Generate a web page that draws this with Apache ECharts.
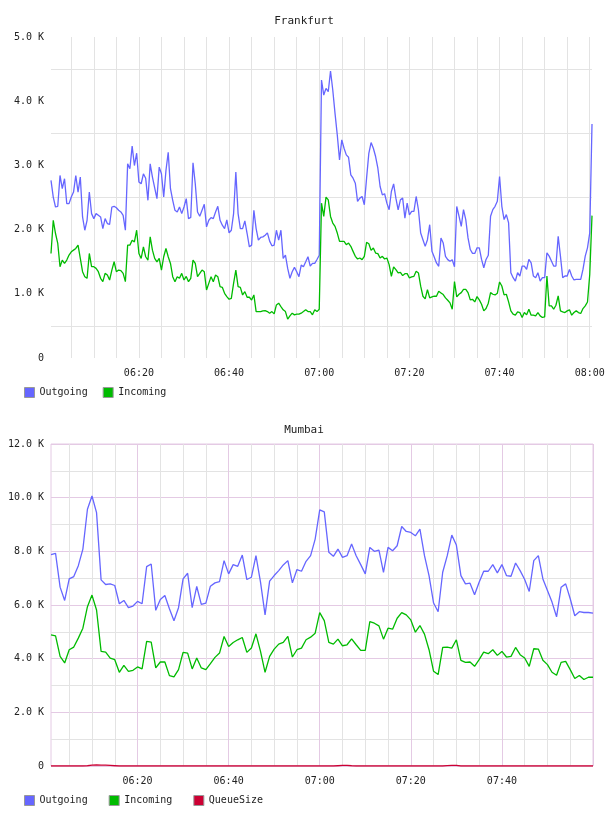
<!DOCTYPE html>
<html>
<head>
<meta charset="utf-8">
<script src="https://cdn.jsdelivr.net/npm/echarts@6/dist/echarts.min.js"></script>
<style>
  html, body { margin: 0; padding: 0; background: #fff; }
  #chart { width: 608px; height: 816px; }
</style>
</head>
<body>
<div id="chart"></div>
<script>
// Frankfurt: one sample every 30 s from 06:00:30 to 08:00:30
const fraOutgoing = [
  2766, 2507, 2352, 2363, 2843, 2637, 2792, 2404, 2404, 2507, 2585, 2843, 2585, 2818, 2197, 1990,
  2145, 2585, 2249, 2171, 2249, 2223, 2197, 2016, 2171, 2094, 2080, 2352, 2363, 2340, 2301, 2275,
  2223, 1990, 3024, 2947, 3300, 2998, 3190, 2740, 2714, 2869, 2800, 2456, 3024, 2818, 2650, 2482,
  2973, 2869, 2507, 2921, 3205, 2637, 2456, 2301, 2275, 2352, 2249, 2352, 2482, 2171, 2190, 3040,
  2714, 2275, 2208, 2301, 2394, 2042, 2145, 2187, 2171, 2275, 2363, 2145, 2068, 2016, 2150, 1949,
  1990, 2249, 2895, 2249, 2016, 2016, 2135, 1939, 1732, 1758, 2301, 2016, 1835, 1877, 1887, 1913,
  1949, 1820, 1747, 1758, 1990, 1835, 1990, 1551, 1603, 1396, 1241, 1344, 1411, 1344, 1267, 1447,
  1422, 1499, 1577, 1432, 1473, 1473, 1535, 1600, 4330, 4096, 4200, 4148, 4470, 4174, 3811, 3474,
  3086, 3397, 3267, 3164, 3127, 2853, 2801, 2723, 2438, 2490, 2516, 2387, 2801, 3189, 3355, 3267,
  3138, 2956, 2671, 2542, 2558, 2412, 2309, 2594, 2713, 2490, 2309, 2464, 2490, 2179, 2412, 2231,
  2283, 2283, 2516, 2309, 1946, 1843, 1739, 1843, 2076, 1661, 1574, 1480, 1428, 1868, 1791, 1584,
  1532, 1506, 1530, 1420, 2360, 2210, 2050, 2311, 2156, 1871, 1690, 1629, 1629, 1716, 1716, 1535,
  1406, 1535, 1600, 2207, 2311, 2363, 2440, 2828, 2363, 2156, 2233, 2104, 1329, 1251, 1199, 1329,
  1277, 1432, 1432, 1380, 1535, 1483, 1277, 1251, 1329, 1199, 1251, 1251, 1639, 1587, 1510, 1432,
  1432, 1897, 1587, 1251, 1277, 1277, 1380, 1277, 1215, 1225, 1225, 1225, 1380, 1587, 1716, 1949,
  3645
];
const fraIncoming = [
  1628, 2145, 1939, 1784, 1422, 1525, 1473, 1525, 1603, 1654, 1680, 1706, 1758, 1551, 1344, 1267,
  1241, 1628, 1422, 1422, 1396, 1344, 1241, 1189, 1318, 1292, 1215, 1370, 1499, 1344, 1370, 1360,
  1318, 1189, 1758, 1758, 1835, 1809, 1990, 1628, 1551, 1732, 1577, 1525, 1887, 1680, 1551, 1499,
  1551, 1370, 1577, 1706, 1577, 1473, 1267, 1189, 1267, 1241, 1318, 1215, 1270, 1189, 1241, 1525,
  1473, 1267, 1318, 1370, 1344, 1060, 1163, 1267, 1189, 1292, 1267, 1111, 1101, 1008, 956, 915,
  930, 1163, 1370, 1111, 1101, 982, 1034, 946, 946, 904, 982, 723, 723, 723, 734, 739,
  723, 698, 723, 687, 827, 853, 801, 750, 723, 605, 656, 698, 672, 682, 682, 698,
  723, 750, 723, 723, 672, 750, 723, 760, 2412, 2205, 2506, 2464, 2205, 2102, 2050, 1946,
  1817, 1817, 1817, 1765, 1791, 1739, 1661, 1584, 1542, 1558, 1532, 1584, 1801, 1780, 1677, 1713,
  1635, 1625, 1558, 1584, 1542, 1558, 1454, 1273, 1418, 1377, 1325, 1335, 1283, 1314, 1314, 1247,
  1263, 1273, 1350, 1325, 1118, 962, 920, 1066, 936, 952, 962, 962, 1040, 1014, 988, 936,
  900, 859, 760, 1190, 951, 993, 1018, 1070, 1070, 1018, 905, 915, 874, 956, 905, 838,
  734, 770, 853, 1018, 993, 982, 1008, 1184, 1122, 982, 993, 874, 734, 682, 667, 718,
  708, 631, 708, 672, 760, 667, 667, 656, 708, 656, 631, 641, 1277, 812, 812, 760,
  822, 967, 734, 719, 708, 734, 750, 667, 708, 734, 708, 693, 770, 812, 873, 1300,
  2218
];

// Mumbai: one sample per minute from 06:01 to 08:00
const mumOutgoing = [
  7875, 7925, 6665, 6170, 6973, 7060, 7467, 8085, 9567, 10061, 9444, 6937, 6764, 6788, 6727, 6047,
  6170, 5899, 5961, 6134, 6047, 7431, 7530, 5800, 6208, 6356, 5862, 5410, 5900, 6973, 7183, 5900,
  6690, 6023, 6072, 6702, 6825, 6875, 7653, 7159, 7505, 7443, 7863, 6949, 7035, 7838, 6850, 5630,
  6887, 7097, 7282, 7492, 7653, 6825, 7320, 7258, 7628, 7838, 8455, 9542, 9468, 7962, 7813, 8085,
  7776, 7838, 8270, 7838, 7505, 7159, 8147, 7999, 8048, 7220, 8147, 8023, 8209, 8925, 8740, 8703,
  8579, 8826, 7838, 7097, 6072, 5750, 7220, 7838, 8604, 8233, 7097, 6788, 6813, 6381, 6850, 7258,
  7258, 7505, 7196, 7505, 7097, 7072, 7566, 7282, 6949, 6504, 7653, 7838, 6973, 6541, 6109, 5560,
  6665, 6788, 6233, 5600, 5750, 5720, 5720, 5700
];
const mumIncoming = [
  4888, 4851, 4086, 3839, 4333, 4432, 4765, 5136, 5938, 6370, 5815, 4271, 4246, 4024, 3962, 3493,
  3752, 3530, 3567, 3691, 3617, 4642, 4617, 3654, 3876, 3876, 3369, 3320, 3592, 4234, 4209, 3617,
  4024, 3654, 3592, 3814, 4049, 4209, 4827, 4456, 4604, 4703, 4790, 4234, 4395, 4926, 4271, 3493,
  4086, 4357, 4543, 4604, 4827, 4061, 4333, 4395, 4703, 4802, 4950, 5716, 5420, 4604, 4543, 4728,
  4481, 4518, 4740, 4518, 4308, 4308, 5383, 5321, 5222, 4728, 5136, 5098, 5506, 5716, 5630, 5444,
  4987, 5234, 4913, 4333, 3530, 3407, 4419, 4432, 4395, 4703, 3938, 3863, 3876, 3715, 3962, 4246,
  4185, 4333, 4123, 4271, 4061, 4086, 4419, 4148, 4024, 3715, 4370, 4357, 3938, 3777, 3493, 3382,
  3863, 3900, 3592, 3259, 3370, 3222, 3308, 3308
];
const mumQueueSize = [
  0, 0, 0, 0, 0, 0, 0, 0, 10, 30, 40, 35, 30, 20, 10, 0,
  0, 0, 0, 0, 0, 0, 0, 0, 0, 0, 0, 0, 0, 0, 0, 0,
  0, 0, 0, 0, 0, 0, 0, 0, 0, 0, 0, 0, 0, 0, 0, 0,
  0, 0, 0, 0, 0, 0, 0, 0, 0, 0, 0, 0, 0, 0, 0, 10,
  20, 25, 10, 0, 0, 0, 0, 0, 0, 0, 0, 0, 0, 0, 0, 0,
  0, 0, 0, 0, 0, 0, 0, 15, 25, 20, 0, 0, 0, 0, 0, 0,
  0, 0, 0, 0, 0, 0, 0, 0, 0, 0, 0, 0, 0, 0, 0, 0,
  0, 0, 0, 0, 0, 0, 0, 0
];

const fraTickLabels = ["06:20", "06:40", "07:00", "07:20", "07:40", "08:00"];
const mumTickLabels = ["06:20", "06:40", "07:00", "07:20", "07:40"];

const BLUE = "#6666ff";
const GREEN = "#00bb00";
const RED = "#cc0033";
const GRID_GRAY = "#e3e3e3";
const GRID_PURPLE = "#e4cae4";
const FONT = "DejaVu Sans Mono";

function pad(n) {
  return (n < 10 ? "0" : "") + n;
}
// category labels "HH:MM:SS" starting at startSec (seconds after midnight)
function makeTimes(startSec, stepSec, count) {
  const out = [];
  for (let i = 0; i < count; i++) {
    const s = startSec + i * stepSec;
    out.push(pad(Math.floor(s / 3600)) + ":" + pad(Math.floor(s / 60) % 60) + ":" + pad(s % 60));
  }
  return out;
}
const fraTimes = makeTimes(6 * 3600 + 30, 30, fraOutgoing.length);
const mumTimes = makeTimes(6 * 3600 + 60, 60, mumOutgoing.length);

// a gridline every 5 minutes, on the exact minute
function onFiveMinutes(index, value) {
  return value.slice(6) === "00" && Number(value.slice(3, 5)) % 5 === 0;
}
function kFormat(v) {
  return v === 0 ? "0" : (v / 1000).toFixed(1) + " K";
}

const chart = echarts.init(document.getElementById("chart"));

const lineSeries = (name, data, color, idx) => ({
  name: name,
  type: "line",
  xAxisIndex: idx,
  yAxisIndex: idx,
  data: data,
  showSymbol: false,
  symbol: "none",
  lineStyle: { width: 1.3, color: color },
  itemStyle: { color: color },
  emphasis: { disabled: true },
});

const legendBase = {
  left: 24,
  padding: 0,
  icon: "rect",
  itemWidth: 10,
  itemHeight: 10,
  itemStyle: { borderColor: "#999", borderWidth: 1 },
  textStyle: { fontFamily: FONT, fontSize: 10, color: "#222" },
};

chart.setOption({
  backgroundColor: "#fff",
  animation: false,
  textStyle: { fontFamily: FONT },
  title: [
    {
      text: "Frankfurt",
      left: "center",
      top: 11,
      textStyle: { fontFamily: FONT, fontSize: 11, fontWeight: "normal", color: "#222" },
    },
    {
      text: "Mumbai",
      left: "center",
      top: 420,
      textStyle: { fontFamily: FONT, fontSize: 11, fontWeight: "normal", color: "#222" },
    },
  ],
  legend: [
    Object.assign({}, legendBase, { data: ["Outgoing", "Incoming"], top: 387, itemGap: 15 }),
    Object.assign({}, legendBase, { data: ["Outgoing", "Incoming", "QueueSize"], top: 795, itemGap: 21 }),
  ],
  grid: [
    { left: 51, top: 37, width: 541, height: 321 },
    {
      left: 51, top: 444, width: 542, height: 322,
      show: true, borderColor: GRID_PURPLE, borderWidth: 1,
    },
  ],
  xAxis: [
    {
      type: "category",
      gridIndex: 0,
      data: fraTimes,
      boundaryGap: false,
      axisLine: { show: false },
      axisTick: { show: false },
      axisLabel: {
        interval: (i, v) => v.slice(6) === "00" && fraTickLabels.includes(v.slice(0, 5)),
        formatter: (v) => v.slice(0, 5),
        fontFamily: FONT,
        fontSize: 10,
        color: "#222",
        margin: 10,
      },
      splitLine: { show: true, interval: onFiveMinutes, lineStyle: { color: GRID_GRAY, width: 1 } },
    },
    {
      type: "category",
      gridIndex: 1,
      data: mumTimes,
      boundaryGap: false,
      axisLine: { show: false },
      axisTick: { show: false },
      axisLabel: {
        interval: (i, v) => mumTickLabels.includes(v.slice(0, 5)),
        formatter: (v) => v.slice(0, 5),
        fontFamily: FONT,
        fontSize: 10,
        color: "#222",
        margin: 10,
      },
      splitLine: {
        show: true,
        interval: onFiveMinutes,
        lineStyle: { color: [GRID_GRAY, GRID_GRAY, GRID_GRAY, GRID_PURPLE], width: 1 },
      },
    },
  ],
  yAxis: [
    {
      type: "value",
      gridIndex: 0,
      min: 0,
      max: 5000,
      interval: 500,
      axisLine: { show: false },
      axisTick: { show: false },
      axisLabel: {
        formatter: (v) => (v % 1000 === 0 ? kFormat(v) : ""),
        fontFamily: FONT,
        fontSize: 10,
        color: "#222",
        margin: 7,
      },
      splitLine: { show: true, lineStyle: { color: ["rgba(0,0,0,0)", GRID_GRAY], width: 1 } },
    },
    {
      type: "value",
      gridIndex: 1,
      min: 0,
      max: 12000,
      interval: 1000,
      axisLine: { show: false },
      axisTick: { show: false },
      axisLabel: {
        formatter: (v) => (v % 2000 === 0 ? kFormat(v) : ""),
        fontFamily: FONT,
        fontSize: 10,
        color: "#222",
        margin: 7,
      },
      splitLine: { show: true, lineStyle: { color: [GRID_PURPLE, GRID_GRAY], width: 1 } },
    },
  ],
  series: [
    lineSeries("Outgoing", fraOutgoing, BLUE, 0),
    lineSeries("Incoming", fraIncoming, GREEN, 0),
    lineSeries("Outgoing", mumOutgoing, BLUE, 1),
    lineSeries("Incoming", mumIncoming, GREEN, 1),
    lineSeries("QueueSize", mumQueueSize, RED, 1),
  ],
});
</script>
</body>
</html>
